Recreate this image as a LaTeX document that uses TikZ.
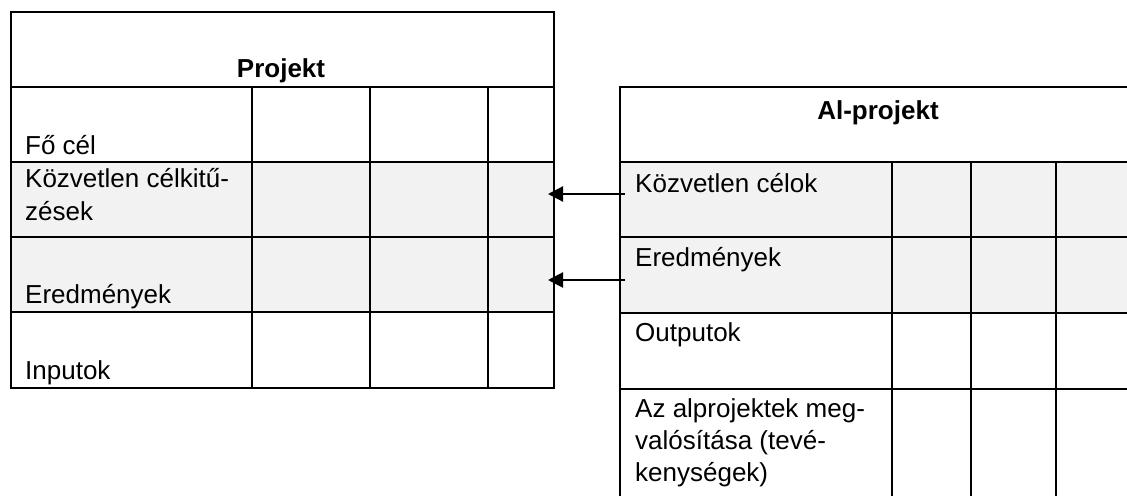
\documentclass[tikz,border=0pt]{standalone}
\usepackage{fontspec}
\setmainfont{Liberation Sans}
\usetikzlibrary{arrows.meta}
\definecolor{shadegray}{HTML}{F2F2F2}
\begin{document}
\begin{tikzpicture}[x=1pt,y=-1pt,
  gridline/.style={line width=2.9pt,black},
  shaded/.style={fill=shadegray},
  lbl/.style={anchor=base west,inner sep=0pt,font=\fontsize{26}{32}\selectfont},
  ttl/.style={anchor=base,inner sep=0pt,font=\fontsize{26}{32}\selectfont\bfseries},
  arr/.style={line width=2.2pt,-{Triangle[length=15pt,width=15pt]}}]
\useasboundingbox (0,0) rectangle (1127,496);
% shading
\fill[shaded] (11,162) rectangle (554,312);
\fill[shaded] (620,162) rectangle (1127,313);
% left table
\draw[gridline] (11,12) rectangle (554,388);
\foreach \y in {87,162,237,312} \draw[gridline] (11,\y) -- (554,\y);
\foreach \x in {252,370,488} \draw[gridline] (\x,87) -- (\x,388);
% right table
\draw[gridline] (1127,87) -- (620,87) -- (620,496);
\foreach \y in {162,237,313,389} \draw[gridline] (620,\y) -- (1127,\y);
\foreach \x in {892,971,1056} \draw[gridline] (\x,162) -- (\x,496);
% left texts
\node[ttl] (projekt) at (281,77) {Projekt};
\node[lbl] (focel) at (25,154) {Fő cél};
\node[lbl] (kozv1) at (25,187) {Közvetlen célkitű-};
\node[lbl] (kozv2) at (25,220) {zések};
\node[lbl] (ered) at (25,303) {Eredmények};
\node[lbl] (input) at (25,379) {Inputok};
% right texts
\node[ttl] (alproj) at (878,119) {Al-projekt};
\node[lbl] (kozvc) at (635,192) {Közvetlen célok};
\node[lbl] (eredr) at (635,266) {Eredmények};
\node[lbl] (outp) at (635,341) {Outputok};
\node[lbl] (az1) at (635,417) {Az alprojektek meg-};
\node[lbl] (az2) at (635,449) {valósítása (tevé-};
\node[lbl] (az3) at (635,481) {kenységek)};
% arrows
\coordinate (a1s) at (625,194);
\coordinate (a1e) at (548,194);
\coordinate (a2s) at (625,280);
\coordinate (a2e) at (548,280);
\draw[arr] (a1s) -- (a1e);
\draw[arr] (a2s) -- (a2e);
\end{tikzpicture}
\end{document}
